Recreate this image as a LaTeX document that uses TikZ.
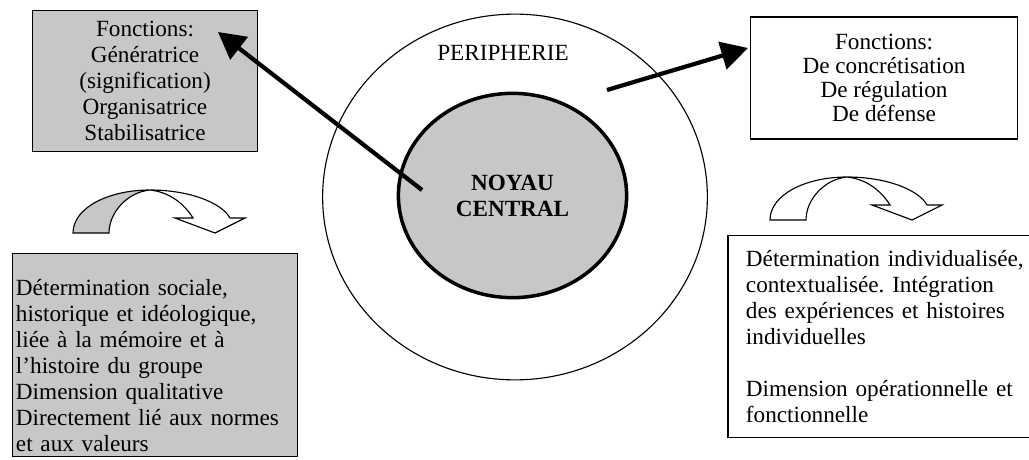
\documentclass[tikz,border=0pt]{standalone}
\usepackage{fontspec}
\setmainfont{Liberation Serif}
\usepackage{tikz}
\usetikzlibrary{shapes.geometric, arrows.meta}
\definecolor{grisfond}{gray}{0.78}
\tikzstyle{boite} = [draw, line width=1pt, inner sep=0pt]
\tikzstyle{fleche} = [line width=3pt, -{Triangle[length=19pt,width=20pt]}]
\tikzstyle{texte} = [font=\fontsize{16.5}{18.5}\selectfont\frenchspacing]

% fleche courbe : #1,#2 = decalage, #3 = remplissage de la branche gauche
\newcommand{\flecheCourbe}[3]{%
  \begin{scope}[shift={(#1,#2)}, line width=0.8pt]
    \filldraw[fill=#3] (0,43) .. controls (0,18) and (35,0) .. (77,0) .. controls (55,2) and (36,22) .. (36,43) -- cycle;
    \filldraw[fill=white] (77,0) .. controls (115,0) and (148,12) .. (157,28) -- (172,28) -- (142,43) -- (102,28) -- (120,28) .. controls (110,12) and (95,2) .. (77,0) -- cycle;
  \end{scope}}

\begin{document}
\begin{tikzpicture}[x=0.025cm, y=-0.025cm, every node/.style={texte}]
    \useasboundingbox (0,0) rectangle (1029,459);

    % Cercles
    \node[ellipse, draw, line width=0.8pt, minimum width=273.6pt, minimum height=260.1pt, inner sep=0pt] (periph) at (515,197) {};
    \node (periphTxt) at (503,53) {PERIPHERIE};
    \node[ellipse, draw, line width=2.5pt, fill=grisfond, minimum width=162.3pt, minimum height=145.3pt, inner sep=0pt, align=center, font=\fontsize{16.5}{18.5}\selectfont\bfseries] (noyau) at (512.5,195.5) {NOYAU\\CENTRAL};

    % Boites
    \node[boite, fill=grisfond, minimum width=160.2pt, minimum height=100.6pt, align=center] (fonctNoyau) at (145,81) {Fonctions:\\Génératrice\\(signification)\\Organisatrice\\Stabilisatrice};
    \node[boite, minimum width=190pt, minimum height=86.5pt, align=center, font=\fontsize{16.5}{17.2}\selectfont] (fonctPeriph) at (884,78) {Fonctions:\\De concrétisation\\De régulation\\De défense};
    \node[boite, fill=grisfond, minimum height=144.6pt, text width=197.7pt, inner xsep=2.5pt, align=left] (detNoyau) at (155,355) {\rule{0pt}{27pt}Détermination sociale,\\historique et idéologique,\\liée à la mémoire et à\\l'histoire du groupe\\Dimension qualitative\\Directement lié aux normes\\et aux valeurs};
    \node[boite, minimum height=143.9pt, text width=202pt, inner xsep=12.8pt, align=left] (detPeriph) at (888,336.5) {Détermination individualisée,\\contextualisée. Intégration\\des expériences et histoires\\individuelles\\[18.5pt]Dimension opérationnelle et\\fonctionnelle};

    % Fleches
    \coordinate (depG) at (422,190);
    \coordinate (pointeG) at (218,32);
    \coordinate (depD) at (607,90);
    \coordinate (pointeD) at (748,48);
    \draw[fleche] (depG) -- (pointeG);
    \draw[fleche] (depD) -- (pointeD);

    \flecheCourbe{73}{190}{grisfond}
    \flecheCourbe{770}{177}{white}

\end{tikzpicture}
\end{document}
